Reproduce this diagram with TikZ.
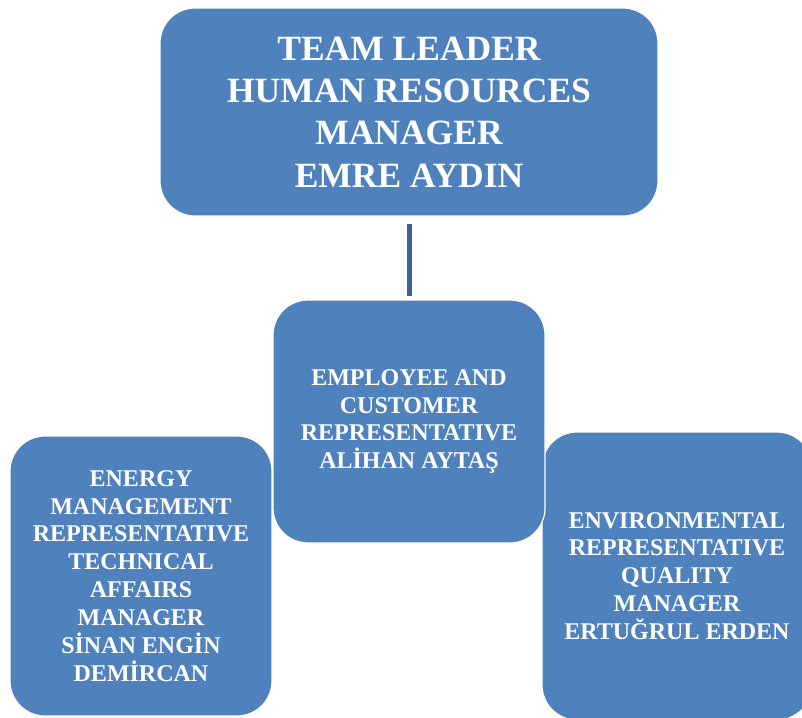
\documentclass[tikz,border=0pt]{standalone}
\usepackage{fontspec}
\setmainfont{Liberation Serif}
\definecolor{boxblue}{HTML}{4F81BD}
\definecolor{linkblue}{HTML}{3B6496}
\begin{document}
\begin{tikzpicture}[x=1pt,y=-1pt,
  orgbox/.style={draw=white, line width=1.2pt, fill=boxblue, rounded corners=35pt,
    text=white, align=center, inner sep=0pt, font=\bfseries\fontsize{24}{27.9}\selectfont},
  bigtext/.style={font=\bfseries\fontsize{35.5}{42.3}\selectfont},
  link/.style={draw=linkblue, line width=5pt}]
\useasboundingbox (0,0) rectangle (802,717);
\clip (0,0) rectangle (802,717);
\node[orgbox, minimum width=262pt, minimum height=280pt] (left) at (141,576)
  {ENERGY\\MANAGEMENT\\REPRESENTATIVE\\TECHNICAL\\AFFAIRS\\MANAGER\\SİNAN ENGİN\\DEMİRCAN};
\node[orgbox, minimum width=270pt, minimum height=288pt] (right) at (677,576)
  {ENVIRONMENTAL\\REPRESENTATIVE\\QUALITY\\MANAGER\\ERTUĞRUL ERDEN};
\node[orgbox, minimum width=272pt, minimum height=243pt] (mid) at (409,421.5)
  {EMPLOYEE AND\\CUSTOMER\\REPRESENTATIVE\\ALİHAN AYTAŞ};
\node[orgbox, bigtext, minimum width=498pt, minimum height=208pt] (top) at (409,112)
  {TEAM LEADER\\HUMAN RESOURCES\\MANAGER\\EMRE AYDIN};
\draw[link, shorten <=7pt, shorten >=3pt] ([xshift=0.5pt]top.south) -- ([xshift=0.5pt]mid.north);
\end{tikzpicture}
\end{document}
